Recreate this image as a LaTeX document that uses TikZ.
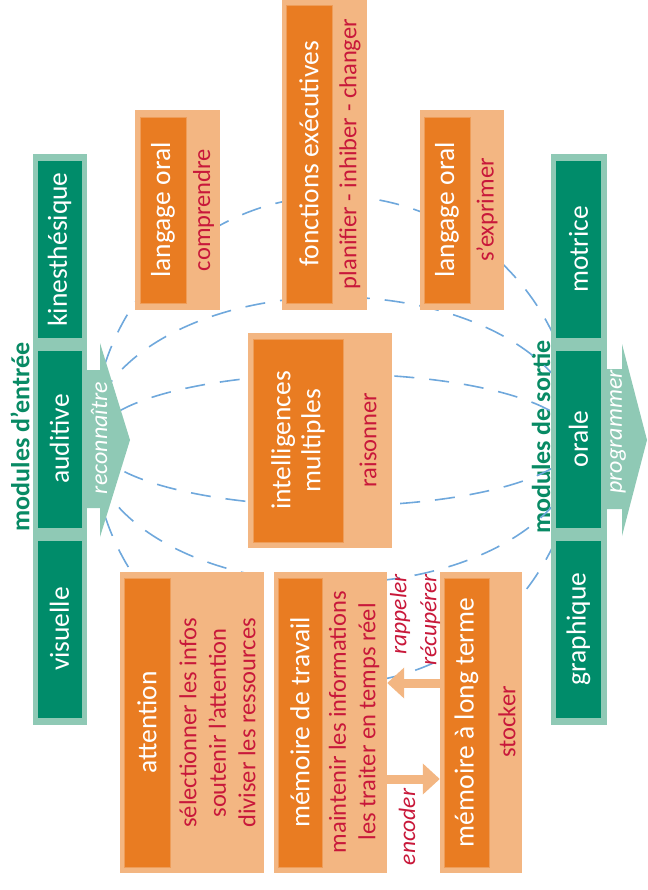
\documentclass[tikz,border=0pt]{standalone}
\usepackage{fontspec}
\setmainfont{Carlito}
\usetikzlibrary{arrows.meta}
\definecolor{vertfonce}{RGB}{0,140,106}
\definecolor{vertclair}{RGB}{143,201,181}
\definecolor{vertlabel}{RGB}{8,138,100}
\definecolor{orfonce}{RGB}{233,124,34}
\definecolor{orclair}{RGB}{243,182,130}
\definecolor{rouge}{RGB}{200,24,58}
\definecolor{bleu}{RGB}{111,168,220}
\begin{document}
\begin{tikzpicture}[x=1pt, y=-1pt,
    module/.style={rotate=90, fill=vertfonce, text=white, inner sep=0pt,
      minimum width=177pt, minimum height=44pt, font=\fontsize{27.5}{30}\selectfont},
    titre/.style={rotate=90, fill=orfonce, draw=orfonce!75!white, line width=0.8pt,
      text=white, inner sep=0pt, align=center, font=\fontsize{27.5}{30}\selectfont},
    fond/.style={fill=orclair, inner sep=0pt},
    tache/.style={rotate=90, text=rouge, inner sep=0pt, align=center,
      font=\fontsize{24.5}{29.5}\selectfont},
    verbe/.style={rotate=90, inner sep=0pt, align=right,
      font=\itshape\fontsize{23.5}{30}\selectfont},
    etiquette/.style={rotate=90, text=vertlabel, inner sep=0pt,
      font=\bfseries\fontsize{26}{30}\selectfont},
    pointille/.style={bleu, line width=1.6pt, dash pattern=on 20pt off 15pt},
    fleche/.style={orclair, line width=9pt, -{Triangle[length=17pt, width=30pt]}}]

  \useasboundingbox (0,0) rectangle (647,890);

  \node (entree) at (20,437) [etiquette] {modules d’entrée};
  \node (sortie) at (541,437) [etiquette] {modules de sortie};

  \draw[pointille] (335,440) ellipse [x radius=242, y radius=244];
  \draw[pointille] (335,440) ellipse [x radius=245, y radius=143];
  \draw[pointille] (335,440) ellipse [x radius=240, y radius=66];

  % modules d'entree
  \fill[vertclair] (33,154) rectangle (87,725);
  \fill[vertclair] (87,370) -- (100,370) -- (100,343) -- (130,440)
    -- (100,537) -- (100,508) -- (87,508) -- cycle;
  \node (kines) at (59.5,249.5) [module] {kinesthésique};
  \node (audit) at (59.5,439) [module] {auditive};
  \node (visu) at (59.5,629) [module] {visuelle};
  \node (recon) at (99,438) [verbe, text=white, font=\itshape\fontsize{24}{26}\selectfont] {reconnaître};

  % modules de sortie
  \fill[vertclair] (551,154) rectangle (607,725);
  \fill[vertclair] (607,369) -- (622,369) -- (622,344) -- (647,440)
    -- (622,536) -- (622,509) -- (607,509) -- cycle;
  \node (motr) at (578.5,249.5) [module, minimum height=45pt] {motrice};
  \node (orale) at (578.5,439) [module, minimum height=45pt] {orale};
  \node (graph) at (578.5,629) [module, minimum height=45pt] {graphique};
  \node (progr) at (618,432) [verbe, text=white, font=\itshape\fontsize{24}{26}\selectfont] {programmer};

  % langage oral (comprendre)
  \node (compfond) at (177.5,210) [fond, minimum width=85pt, minimum height=200pt] {};
  \node (comp) at (163,210) [titre, minimum width=186pt, minimum height=46pt] {langage oral};
  \node (comptxt) at (203.5,210) [tache] {comprendre};

  % fonctions executives
  \node (fefond) at (324.5,155) [fond, minimum width=85pt, minimum height=310pt] {};
  \node (fe) at (309,154) [titre, minimum width=298pt, minimum height=46pt] {fonctions exécutives};
  \node (fetxt) at (350,154) [tache] {planifier - inhiber - changer};

  % langage oral (s'exprimer)
  \node (exprfond) at (462,210) [fond, minimum width=84pt, minimum height=200pt] {};
  \node (expr) at (447,210) [titre, minimum width=186pt, minimum height=46pt] {langage oral};
  \node (exprtxt) at (487,210) [tache] {s’exprimer};

  % intelligences multiples
  \node (intfond) at (320,440.5) [fond, minimum width=144pt, minimum height=215pt] {};
  \node (int) at (298,440.5) [titre, minimum width=203pt, minimum height=90pt] {intelligences\\multiples};
  \node (inttxt) at (368,440) [tache] {raisonner};

  % attention
  \node (attfond) at (192,722.5) [fond, minimum width=144pt, minimum height=301pt] {};
  \node (att) at (147,722.5) [titre, minimum width=289pt, minimum height=46pt] {attention};
  \node (atttxt) at (217.5,723) [tache] {sélectionner les infos\\soutenir l’attention\\diviser les ressources};

  % memoire de travail
  \node (mdtfond) at (330.5,722.5) [fond, minimum width=113pt, minimum height=301pt] {};
  \node (mdt) at (300,722.5) [titre, minimum width=289pt, minimum height=44pt] {mémoire de travail};
  \node (mdttxt) at (354,722) [tache] {maintenir les informations\\les traiter en temps réel};

  % memoire a long terme
  \node (mltfond) at (481,722.5) [fond, minimum width=82pt, minimum height=301pt] {};
  \node (mlt) at (466.5,722.5) [titre, minimum width=289pt, minimum height=45pt] {mémoire à long terme};
  \node (mlttxt) at (507,722) [tache] {stocker};

  \draw[fleche] ([yshift=39.5pt]mltfond.west) -- ([yshift=39.5pt]mdtfond.east);
  \draw[fleche] ([yshift=-56.5pt]mdtfond.east) -- ([yshift=-56.5pt]mltfond.west);
  \node (rappel) at (415,620) [verbe, text=rouge] {rappeler\\récupérer};
  \node (encod) at (407,827) [verbe, text=rouge] {encoder};
\end{tikzpicture}
\end{document}
